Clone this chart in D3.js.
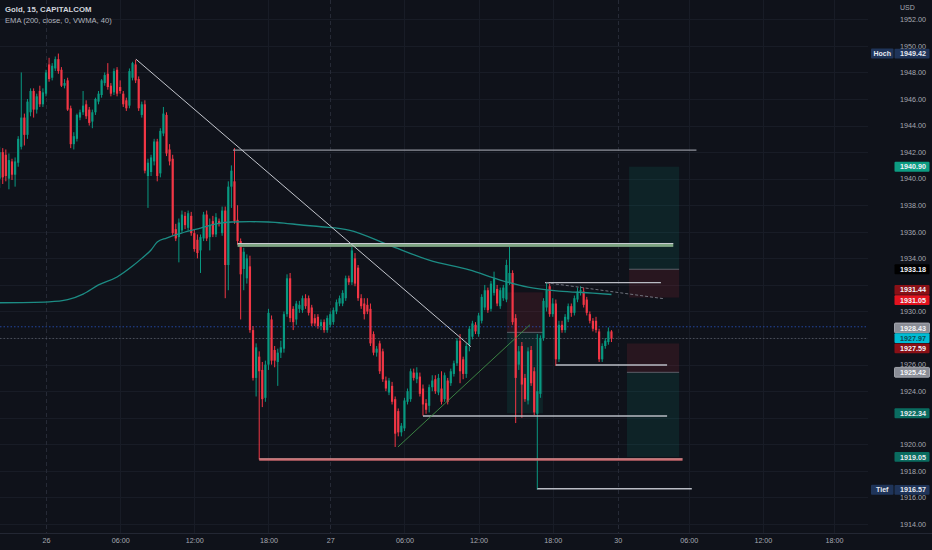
<!DOCTYPE html>
<html>
<head>
<meta charset="utf-8">
<script src="https://cdnjs.cloudflare.com/ajax/libs/d3/7.8.5/d3.min.js"></script>
<style>
html, body { margin: 0; padding: 0; background: #0f121a; overflow: hidden; }
text { font-family: "Liberation Sans", Arial, sans-serif; }
</style>
</head>
<body>
<svg id="chart" width="932" height="550"></svg>
<script>
// ---- data ----
var symbolTitle = "Gold, 15, CAPITALCOM"
var indicatorTitle = "EMA (200, close, 0, VWMA, 40)"

// 15 minute bars, first one is 15 bars before the "26" tick
var firstBar = -15
var ohlc = [
[1940.0,1942.4,1939.3,1942.0],[1942.0,1942.3,1939.6,1940.1],[1941.8,1942.2,1939.8,1940.2],[1940.0,1941.9,1939.2,1941.4],
[1941.3,1941.5,1939.9,1940.3],[1940.3,1941.6,1939.4,1941.3],[1941.2,1943.2,1940.9,1943.0],[1942.4,1948.0,1942.2,1944.6],
[1944.6,1944.9,1942.5,1943.3],[1943.3,1946.0,1943.0,1945.8],[1945.0,1946.8,1944.7,1946.6],[1946.6,1946.8,1944.6,1945.2],
[1945.2,1946.4,1944.9,1946.2],[1946.6,1947.0,1945.4,1945.6],[1945.6,1946.8,1945.4,1946.5],[1946.4,1948.2,1946.2,1948.0],
[1948.6,1949.1,1947.3,1947.5],[1947.6,1948.7,1947.4,1948.5],[1948.3,1949.2,1948.1,1949.0],[1949.0,1949.42,1947.9,1948.1],
[1948.2,1948.4,1946.9,1947.0],[1947.0,1947.5,1946.8,1947.2],[1947.4,1947.6,1945.1,1945.2],[1945.3,1945.5,1942.3,1942.6],
[1942.6,1943.5,1942.2,1943.2],[1943.0,1944.9,1942.8,1944.8],[1944.6,1945.2,1944.4,1945.0],[1945.0,1946.6,1944.8,1945.5],
[1945.6,1945.9,1944.5,1944.7],[1945.2,1945.4,1944.0,1944.2],[1944.3,1945.2,1943.8,1945.0],[1945.0,1946.1,1944.8,1946.0],
[1945.8,1946.6,1945.6,1946.4],[1946.3,1947.5,1946.1,1947.4],[1947.2,1948.0,1947.0,1947.8],[1947.9,1948.7,1946.7,1946.9],
[1947.0,1947.2,1946.2,1946.4],[1946.5,1948.3,1946.3,1948.1],[1948.2,1948.4,1946.2,1946.4],[1946.9,1947.4,1946.4,1946.6],
[1946.4,1946.6,1945.4,1945.6],[1945.9,1946.1,1945.1,1945.3],[1945.5,1948.3,1945.3,1948.1],[1947.6,1948.8,1947.4,1948.7],
[1948.6,1948.95,1947.2,1947.4],[1947.5,1947.7,1945.1,1945.3],[1944.8,1945.8,1944.6,1945.6],[1945.6,1945.9,1940.4,1940.6],
[1940.2,1941.5,1937.8,1941.2],[1940.5,1941.8,1940.2,1941.6],[1941.3,1943.0,1941.0,1942.8],[1942.8,1943.0,1939.8,1940.2],
[1940.4,1943.8,1940.1,1943.6],[1943.4,1945.4,1943.2,1944.9],[1944.8,1945.0,1941.7,1941.9],[1942.2,1942.6,1941.0,1941.3],
[1941.5,1941.8,1935.7,1935.9],[1936.2,1936.6,1935.3,1935.5],[1935.6,1937.0,1933.7,1936.7],[1936.1,1937.6,1935.9,1937.3],
[1937.2,1937.5,1936.2,1936.5],[1936.3,1937.6,1936.1,1937.4],[1937.2,1937.5,1935.7,1935.9],[1935.9,1936.2,1934.5,1934.7],
[1935.4,1935.8,1934.0,1934.4],[1934.6,1935.8,1932.9,1935.6],[1935.5,1937.5,1935.3,1937.3],[1937.3,1937.6,1935.3,1935.5],
[1935.6,1937.0,1934.6,1936.5],[1936.8,1937.2,1935.6,1935.8],[1935.8,1937.4,1935.6,1937.1],[1936.8,1937.0,1936.4,1936.6],
[1935.9,1937.9,1935.7,1937.6],[1937.6,1937.9,1931.0,1933.5],[1933.5,1939.8,1931.6,1939.4],[1939.4,1941.0,1937.8,1940.6],
[1939.8,1942.3,1936.6,1936.8],[1936.9,1938.0,1935.0,1935.3],[1935.3,1935.5,1929.4,1932.8],[1933.2,1934.8,1931.6,1934.5],
[1932.5,1934.3,1932.1,1934.0],[1933.4,1934.2,1928.4,1928.6],[1928.6,1928.9,1924.8,1925.0],[1925.0,1927.6,1923.6,1927.3],
[1926.6,1927.0,1918.85,1925.5],[1925.6,1926.2,1922.8,1923.4],[1923.5,1926.3,1923.2,1926.0],[1926.0,1930.2,1925.6,1929.9],
[1929.4,1929.7,1926.0,1926.3],[1927.1,1927.4,1925.8,1926.3],[1926.2,1927.2,1924.4,1926.9],[1926.9,1927.8,1926.5,1927.3],
[1927.2,1930.0,1926.9,1929.8],[1929.8,1932.8,1929.6,1932.5],[1932.5,1932.9,1929.2,1929.5],[1930.2,1930.4,1928.6,1929.2],
[1929.4,1930.8,1929.0,1930.6],[1930.2,1930.8,1929.9,1930.5],[1930.1,1931.2,1929.9,1931.0],[1931.0,1931.3,1930.2,1930.4],
[1931.0,1931.2,1929.7,1929.9],[1930.3,1930.5,1928.9,1929.1],[1929.5,1929.8,1928.9,1929.1],[1929.6,1929.8,1928.7,1928.9],
[1928.9,1929.4,1928.6,1929.2],[1929.2,1929.4,1928.4,1928.6],[1928.6,1929.7,1928.4,1929.5],[1929.0,1930.0,1928.8,1929.8],
[1929.2,1930.3,1929.0,1930.1],[1930.0,1930.9,1929.8,1930.7],[1930.6,1931.2,1930.4,1931.0],[1930.6,1931.6,1930.4,1931.4],
[1931.0,1932.7,1930.8,1932.5],[1932.5,1932.7,1932.0,1932.2],[1932.2,1934.85,1932.0,1934.6],[1934.0,1934.4,1931.9,1932.1],
[1933.3,1933.5,1930.8,1931.0],[1931.0,1931.3,1930.2,1930.4],[1930.6,1931.0,1929.4,1929.8],[1930.5,1931.0,1929.8,1930.0],
[1930.2,1930.6,1927.4,1927.6],[1928.3,1928.5,1926.7,1926.9],[1926.9,1927.4,1926.6,1927.2],[1927.6,1927.8,1925.3,1925.5],
[1927.0,1927.2,1924.7,1924.9],[1924.8,1925.1,1924.0,1924.2],[1923.9,1925.0,1923.7,1924.8],[1924.4,1924.7,1923.0,1923.2],
[1923.4,1923.6,1919.8,1920.8],[1922.5,1922.7,1920.6,1920.9],[1920.9,1921.6,1920.6,1921.4],[1921.2,1923.5,1921.0,1923.3],
[1923.2,1924.2,1923.0,1924.0],[1923.4,1925.7,1923.2,1925.5],[1925.4,1925.7,1924.8,1925.0],[1924.9,1925.8,1924.6,1925.4],
[1925.1,1925.4,1923.6,1923.8],[1924.2,1924.5,1922.15,1923.0],[1923.1,1923.4,1922.3,1922.6],[1922.9,1924.5,1922.4,1924.3],
[1924.3,1925.2,1924.0,1924.8],[1924.9,1925.2,1923.8,1924.0],[1923.9,1925.3,1923.7,1925.0],[1924.2,1925.5,1923.0,1923.2],
[1923.4,1925.4,1923.2,1925.2],[1924.8,1925.0,1923.0,1923.2],[1924.6,1925.7,1924.4,1925.5],[1925.3,1926.3,1925.1,1926.1],
[1926.1,1928.0,1925.9,1927.8],[1927.8,1928.3,1924.6,1925.5],[1926.4,1926.6,1924.9,1925.3],[1925.3,1927.6,1925.0,1927.4],
[1927.5,1928.9,1927.0,1928.7],[1928.1,1929.3,1927.9,1929.1],[1929.0,1929.2,1928.3,1928.5],[1928.3,1929.9,1928.1,1929.7],
[1929.3,1931.3,1929.1,1931.1],[1930.3,1932.0,1930.1,1931.6],[1931.6,1931.8,1929.9,1930.1],[1930.2,1932.3,1930.0,1932.1],
[1931.4,1933.0,1931.2,1932.5],[1931.7,1932.0,1930.4,1930.6],[1930.4,1931.8,1930.2,1931.6],[1931.0,1932.0,1930.8,1931.8],
[1930.9,1933.9,1930.7,1933.5],[1932.2,1934.9,1932.0,1932.9],[1932.9,1933.1,1929.0,1929.2],[1929.5,1929.8,1921.6,1925.0],
[1926.0,1927.4,1925.6,1927.0],[1927.4,1927.7,1922.0,1924.5],[1925.0,1925.3,1923.2,1923.4],[1923.3,1927.3,1923.0,1927.0],
[1927.1,1927.4,1924.4,1924.6],[1925.5,1925.8,1922.2,1922.4],[1922.3,1928.3,1916.57,1924.0],[1923.8,1928.2,1923.5,1928.0],
[1928.0,1931.0,1927.8,1930.8],[1930.3,1932.2,1930.0,1931.6],[1931.9,1932.1,1929.6,1929.8],[1929.8,1931.0,1929.6,1930.6],
[1930.6,1930.9,1925.9,1926.4],[1926.4,1929.3,1926.2,1929.0],[1929.0,1929.3,1928.4,1928.6],[1928.6,1929.8,1928.4,1929.6],
[1929.4,1930.6,1929.2,1930.4],[1930.4,1930.6,1929.6,1929.9],[1929.9,1931.2,1929.7,1931.0],[1930.9,1931.8,1930.7,1931.5],
[1931.5,1931.9,1931.2,1931.6],[1931.5,1931.8,1930.3,1930.5],[1930.9,1931.1,1929.7,1929.9],[1929.8,1930.0,1929.1,1929.3],
[1929.3,1929.5,1928.5,1928.7],[1929.3,1929.6,1928.4,1928.6],[1928.5,1928.7,1926.2,1926.4],[1926.4,1927.6,1926.2,1927.4],
[1927.4,1928.0,1927.2,1927.8],[1927.7,1928.8,1927.5,1928.5],[1928.5,1928.6,1927.7,1927.97]
]

// EMA line, read at a few bars
var emaBars   = [-15, 1, 7, 12, 17, 23, 28, 31, 34, 36, 39, 44, 50, 55, 60, 66, 72, 77, 82, 89, 98, 111, 124, 137, 147, 156, 166, 177, 183]
var emaValues = [1930.66, 1930.73, 1930.89, 1931.31, 1932.0, 1932.6, 1933.42, 1934.0, 1934.63, 1935.23, 1935.53, 1935.91, 1936.28,
                 1936.59, 1936.74, 1936.76, 1936.74, 1936.66, 1936.53, 1936.38, 1936.13, 1935.0, 1933.87, 1933.13, 1932.37,
                 1931.84, 1931.54, 1931.39, 1931.28]

var timeTicks  = [0, 24, 48, 72, 92, 116, 140, 164, 185, 208, 232, 255]
var timeLabels = ["26", "06:00", "12:00", "18:00", "27", "06:00", "12:00", "18:00", "30", "06:00", "12:00", "18:00"]
var dayBreaks  = [0, 92, 185]
var priceTicks = d3.range(1914, 1953, 2)

// drawings
var levels = [
  {name: "top",  price: 1942.15, from: 60.5,  to: 210.5},
  {name: "zone", price: 1935.0,  from: 62,    to: 203},
  {name: "boxTop", price: 1932.17, from: 161.5, to: 199},
  {name: "boxBottom", price: 1925.97, from: 165, to: 201},
  {name: "support", price: 1922.13, from: 122, to: 201},
  {name: "floor", price: 1918.85, from: 69, to: 206},
  {name: "bottom", price: 1916.65, from: 159, to: 209}
]
var trendLines = [
  {name: "down", i1: 29.1, p1: 1949.0, i2: 137.5, p2: 1927.35},
  {name: "up", i1: 113.9, p1: 1919.8, i2: 156.6, p2: 1929.0},
  {name: "dash", i1: 161.8, p1: 1932.17, i2: 199.7, p2: 1930.97}
]
var positions = [
  {from: 149.2, to: 160.8, entry: 1928.43, stop: 1931.44, target: 1922.34},
  {from: 188.7, to: 204.9, entry: 1933.18, stop: 1931.05, target: 1940.90},
  {from: 188.0, to: 204.9, entry: 1925.42, stop: 1927.59, target: 1919.05}
]
var priceLines = [
  {name: "alert", price: 1928.85},
  {name: "last", price: 1927.97}
]
var axisTags = [
  {price: 1949.42, kind: "extreme", side: "Hoch"},
  {price: 1940.90, kind: "target"},
  {price: 1933.18, kind: "entry"},
  {price: 1931.44, kind: "stopDark"},
  {price: 1931.05, kind: "stop"},
  {price: 1928.43, kind: "gray"},
  {price: 1927.97, kind: "last"},
  {price: 1927.59, kind: "stopDark"},
  {price: 1925.42, kind: "gray"},
  {price: 1922.34, kind: "targetDim"},
  {price: 1919.05, kind: "targetDim"},
  {price: 1916.57, kind: "extreme", side: "Tief"}
]

// ---- drawing ----
var W = 932, H = 550
var plotRight = 868, plotBottom = 533
var up = "#089981", down = "#f23645"

var svg = d3.select("#chart")
svg.append("rect").attr("width", W).attr("height", H).attr("fill", "#0f121a")

var x = d3.scaleLinear().domain([0, 255]).range([46, 46 + 255 * 3.09])
var y = d3.scaleLinear().domain([1914, 1952]).range([524, 19.3])
var bw = 2.2

svg.append("clipPath").attr("id", "plot").append("rect")
  .attr("x", 0).attr("y", 0).attr("width", plotRight).attr("height", plotBottom)
var g = svg.append("g").attr("clip-path", "url(#plot)")

// grid
g.append("g").selectAll("line").data(priceTicks).enter().append("line")
  .attr("x1", 0).attr("x2", plotRight)
  .attr("y1", function(d){ return Math.round(y(d)) + 0.5 }).attr("y2", function(d){ return Math.round(y(d)) + 0.5 })
  .attr("stroke", "#181c26").attr("stroke-width", 1)
g.append("g").selectAll("line").data(timeTicks.filter(function(t){ return dayBreaks.indexOf(t) < 0 })).enter().append("line")
  .attr("x1", function(d){ return Math.round(x(d)) + 0.5 }).attr("x2", function(d){ return Math.round(x(d)) + 0.5 })
  .attr("y1", 0).attr("y2", plotBottom)
  .attr("stroke", "#181c26").attr("stroke-width", 1)
g.append("g").selectAll("line").data(dayBreaks).enter().append("line")
  .attr("x1", function(d){ return Math.round(x(d)) + 0.5 }).attr("x2", function(d){ return Math.round(x(d)) + 0.5 })
  .attr("y1", 0).attr("y2", plotBottom)
  .attr("stroke", "#262a36").attr("stroke-width", 1).attr("stroke-dasharray", "4,3")

// position tool boxes (behind the candles)
var posG = g.append("g")
positions.forEach(function(p){
  var x0 = x(p.from), x1 = x(p.to)
  posG.append("rect").attr("x", x0).attr("width", x1 - x0)
    .attr("y", y(Math.max(p.entry, p.stop))).attr("height", Math.abs(y(p.entry) - y(p.stop)))
    .attr("fill", down).attr("fill-opacity", 0.11)
  posG.append("rect").attr("x", x0).attr("width", x1 - x0)
    .attr("y", y(Math.max(p.entry, p.target))).attr("height", Math.abs(y(p.entry) - y(p.target)))
    .attr("fill", up).attr("fill-opacity", 0.13)
  posG.append("line").attr("x1", x0).attr("x2", x1)
    .attr("y1", y(p.entry)).attr("y2", y(p.entry))
    .attr("stroke", "#6b6e78").attr("stroke-width", 1).attr("stroke-opacity", 0.8)
})

// price lines
var plStyle = {alert: "#2a55c8", last: "#5d606b"}
g.append("g").selectAll("line").data(priceLines).enter().append("line")
  .attr("x1", 0).attr("x2", plotRight)
  .attr("y1", function(d){ return y(d.price) }).attr("y2", function(d){ return y(d.price) })
  .attr("stroke", function(d){ return plStyle[d.name] }).attr("stroke-width", 1)
  .attr("stroke-opacity", 0.75).attr("stroke-dasharray", "1.5,2")

// candles
var bars = ohlc.map(function(r, k){ return {i: firstBar + k, o: r[0], h: r[1], l: r[2], c: r[3]} })
var cg = g.append("g")
cg.selectAll("line").data(bars).enter().append("line")
  .attr("x1", function(d){ return x(d.i) }).attr("x2", function(d){ return x(d.i) })
  .attr("y1", function(d){ return y(d.h) }).attr("y2", function(d){ return y(d.l) })
  .attr("stroke", function(d){ return d.c >= d.o ? up : down }).attr("stroke-width", 1)
cg.selectAll("rect").data(bars).enter().append("rect")
  .attr("x", function(d){ return x(d.i) - bw / 2 }).attr("width", bw)
  .attr("y", function(d){ return y(Math.max(d.o, d.c)) })
  .attr("height", function(d){ return Math.max(1, Math.abs(y(d.o) - y(d.c))) })
  .attr("fill", function(d){ return d.c >= d.o ? up : down })

// EMA
var ema = emaBars.map(function(b, k){ return [b, emaValues[k]] })
g.append("path").datum(ema)
  .attr("d", d3.line().x(function(d){ return x(d[0]) }).y(function(d){ return y(d[1]) }).curve(d3.curveMonotoneX))
  .attr("fill", "none").attr("stroke", "#1c8c84").attr("stroke-width", 1.3)

// horizontal levels
var lvG = g.append("g")
levels.forEach(function(l){
  var x0 = x(l.from), x1 = x(l.to), yy = y(l.price)
  if (l.name === "zone") {
    lvG.append("rect").attr("x", x0).attr("width", x1 - x0).attr("y", yy - 1.6).attr("height", 3.4)
      .attr("fill", "#7fa583")
    lvG.append("line").attr("x1", x0).attr("x2", x1).attr("y1", yy - 1.6).attr("y2", yy - 1.6)
      .attr("stroke", "#c9ccd2").attr("stroke-width", 1)
  } else if (l.name === "floor") {
    lvG.append("line").attr("x1", x0).attr("x2", x1).attr("y1", yy).attr("y2", yy)
      .attr("stroke", "#c4656a").attr("stroke-width", 2.4)
    lvG.append("line").attr("x1", x0).attr("x2", x1).attr("y1", yy - 0.8).attr("y2", yy - 0.8)
      .attr("stroke", "#e8a0a0").attr("stroke-width", 0.8)
  } else {
    lvG.append("line").attr("x1", x0).attr("x2", x1).attr("y1", yy).attr("y2", yy)
      .attr("stroke", l.name === "top" ? "#8f929b" : "#b9bcc4").attr("stroke-width", 1.4)
  }
})

// trend lines
var tlStyle = {
  down: {c: "#c3c6cd", w: 1, dash: null},
  up: {c: "#3f8f47", w: 0.9, dash: null},
  dash: {c: "#6f727c", w: 1, dash: "3,2"}
}
g.append("g").selectAll("line").data(trendLines).enter().append("line")
  .attr("x1", function(d){ return x(d.i1) }).attr("y1", function(d){ return y(d.p1) })
  .attr("x2", function(d){ return x(d.i2) }).attr("y2", function(d){ return y(d.p2) })
  .attr("stroke", function(d){ return tlStyle[d.name].c })
  .attr("stroke-width", function(d){ return tlStyle[d.name].w })
  .attr("stroke-dasharray", function(d){ return tlStyle[d.name].dash })

// bottom axis
svg.append("line").attr("x1", 0).attr("x2", W).attr("y1", plotBottom + 0.5).attr("y2", plotBottom + 0.5)
  .attr("stroke", "#232733")
var xAxis = svg.append("g").attr("transform", "translate(0," + plotBottom + ")")
  .call(d3.axisBottom(x).tickValues(timeTicks).tickSize(0).tickPadding(5)
    .tickFormat(function(d, j){ return timeLabels[j] }))
xAxis.select(".domain").remove()
xAxis.selectAll("text").attr("fill", "#a6a9b2").attr("font-size", 7.2)
  .attr("font-family", "Liberation Sans, Arial, sans-serif")

// axis tags with simple overlap handling
var tagH = 10.2
var tags = axisTags.map(function(t){ return Object.assign({y: y(t.price)}, t) })
  .sort(function(a, b){ return a.y - b.y })
var groups = tags.map(function(t){ return {items: [t], c: t.y} })
var merged = true
while (merged) {
  merged = false
  for (var k = 0; k < groups.length - 1; k++) {
    var a = groups[k], b = groups[k + 1]
    if (a.c + a.items.length * tagH / 2 > b.c - b.items.length * tagH / 2) {
      var items = a.items.concat(b.items)
      groups.splice(k, 2, {items: items, c: d3.mean(items, function(t){ return t.y })})
      merged = true
      break
    }
  }
}
groups.forEach(function(gr){
  gr.items.forEach(function(t, j){ t.ty = gr.c + (j - (gr.items.length - 1) / 2) * tagH })
})

// right axis, ticks hidden where a tag sits on them
var visibleTicks = priceTicks.filter(function(p){
  return !tags.some(function(t){ return Math.abs(t.ty - y(p)) < 6.5 })
})
var yAxis = svg.append("g").attr("transform", "translate(897,0)")
  .call(d3.axisRight(y).tickValues(visibleTicks).tickSize(0).tickPadding(3).tickFormat(d3.format(".2f")))
yAxis.select(".domain").remove()
yAxis.selectAll("text").attr("fill", "#a6a9b2").attr("font-size", 7.2)
  .attr("font-family", "Liberation Sans, Arial, sans-serif")
svg.append("text").attr("x", 900).attr("y", 10).text("USD")
  .attr("fill", "#a6a9b2").attr("font-size", 7)

var tagStyle = {
  extreme:   {bg: "#1f3459", fg: "#e6e9f0", border: null},
  target:    {bg: "#0d9c82", fg: "#f0f3fa", border: null},
  targetDim: {bg: "#0a6c60", fg: "#e8ecf2", border: null},
  entry:     {bg: "#000000", fg: "#f0f3fa", border: null},
  stopDark:  {bg: "#8a1016", fg: "#f0f3fa", border: null},
  stop:      {bg: "#e3121e", fg: "#f0f3fa", border: null},
  gray:      {bg: "#8a8d96", fg: "#f4f5f8", border: "#b6b9c0"},
  last:      {bg: "#00bcd4", fg: "#0c4a52", border: null}
}
var tg = svg.append("g")
tags.forEach(function(t){
  var s = tagStyle[t.kind]
  if (t.side) {
    tg.append("rect").attr("x", 871).attr("y", t.ty - 5).attr("width", 22.5).attr("height", 10)
      .attr("fill", s.bg).attr("rx", 1)
    tg.append("text").attr("x", 882.2).attr("y", t.ty + 2.6).attr("text-anchor", "middle")
      .attr("font-size", 7).attr("font-weight", "bold").attr("fill", s.fg).text(t.side)
  }
  tg.append("rect").attr("x", 894.5).attr("y", t.ty - 4.9).attr("width", 35).attr("height", 9.8)
    .attr("fill", s.bg).attr("rx", 1)
    .attr("stroke", s.border || "none").attr("stroke-width", 0.8)
  tg.append("text").attr("x", 900).attr("y", t.ty + 2.6)
    .attr("font-size", 7.2).attr("font-weight", "bold").attr("fill", s.fg)
    .text(d3.format(".2f")(t.price))
})

// header
svg.append("text").attr("x", 5).attr("y", 12).text(symbolTitle)
  .attr("fill", "#d1d4dc").attr("font-size", 7.8).attr("font-weight", "bold")
svg.append("text").attr("x", 5).attr("y", 23).text(indicatorTitle)
  .attr("fill", "#b2b5be").attr("font-size", 7.6)
</script>
</body>
</html>
